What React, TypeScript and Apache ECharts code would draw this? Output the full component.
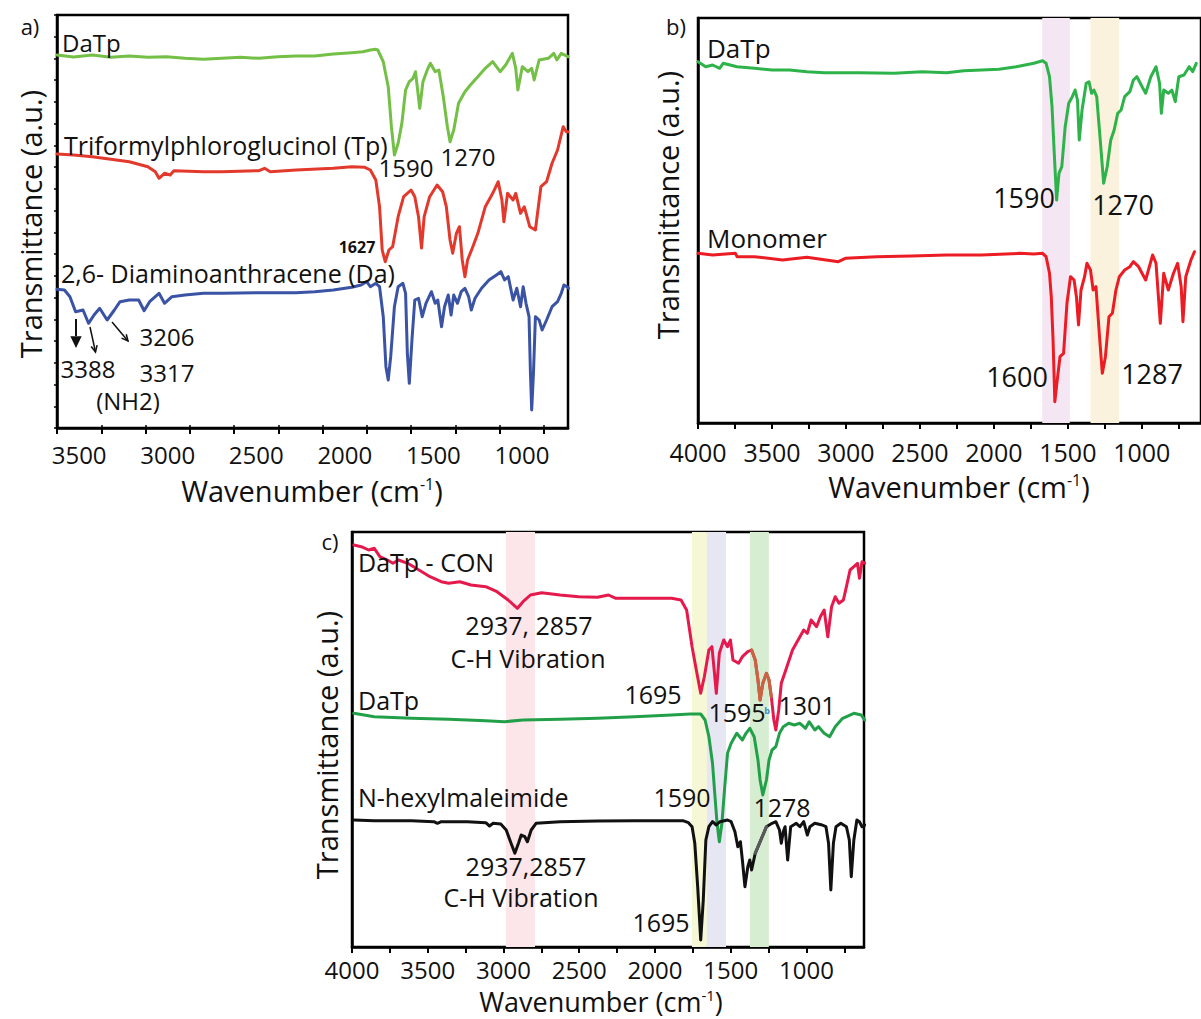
import React, { useEffect, useRef } from 'react';
import * as echarts from 'echarts';

const FONT = '"Open Sans", "Noto Sans", sans-serif';

// ---------- axis ticks / labels ----------
const aTicks = [3625, 3375, 3125, 2875, 2625, 2375, 2125, 1875, 1625, 1375, 1125, 875];
const aLabels = [3500, 3000, 2500, 2000, 1500, 1000];
const bcTicks = [4000, 3750, 3500, 3250, 3000, 2750, 2500, 2250, 2000, 1750, 1500, 1250, 1000, 750];
const bcLabels = [4000, 3500, 3000, 2500, 2000, 1500, 1000];

// ---------- panel a ----------
const aDaTp = [[3625,373],[3531,371],[3426,373],[3321,370.7],[3217,372],[3112,370.7],[3007,371.3],[2903,369.7],[2798,368.7],[2693,369.7],[2589,370.7],[2484,369.7],[2379,371.3],[2275,372],[2170,372],[2065,374],[1961,375.3],[1898,376.3],[1856,378],[1825,378.7],[1814,378],[1783,366.3],[1755,341.3],[1737,301.3],[1720,273],[1699,284.7],[1678,304.7],[1657,338],[1636,346.3],[1615,349.7],[1601,356.3],[1577,319.7],[1559,346.3],[1531,359.7],[1517,364.7],[1490,356.3],[1469,358],[1444,331.3],[1421,301.3],[1406,286.3],[1385,298],[1358,324.7],[1322,336.3],[1291,343],[1249,351.3],[1207,359.7],[1165,366.3],[1123,356.3],[1092,363],[1054,374.7],[1035,359.7],[1023,338],[998,361.3],[966,356.3],[945,359.7],[931,348],[903,368],[851,369.7],[820,374.7],[803,368],[778,374.7],[740,371.3]];
const aTp = [[3625,274],[3531,273],[3426,271.3],[3321,268.7],[3217,266.3],[3112,261.3],[3070,256.3],[3049,249.7],[3018,254.7],[2986,253],[2965,257.3],[2798,256.3],[2693,256.3],[2484,257.3],[2453,259.7],[2421,256.3],[2275,258],[2065,259.7],[1961,261.3],[1887,260.7],[1856,258],[1825,248],[1804,221.3],[1789,178],[1772,166.3],[1751,178],[1730,181.3],[1699,211.3],[1668,231.3],[1626,238],[1605,231.3],[1584,211.3],[1567,180],[1552,211.3],[1521,231.3],[1479,243],[1448,236.3],[1427,221.3],[1406,188],[1391,174.7],[1370,194.7],[1353,201.3],[1337,168],[1322,151.3],[1307,168],[1280,180],[1249,194.7],[1207,221.3],[1165,234.7],[1134,246.3],[1113,228],[1102,206.3],[1081,234.7],[1050,228],[1035,234.7],[1008,214.7],[987,221.3],[956,201.3],[924,198],[893,241.3],[861,246.3],[830,264.7],[799,278],[767,301.3],[750,296.3],[740,296.3]];
const aDa = [[3625,138.7],[3583,138],[3552,131.3],[3520,116.3],[3478,118],[3447,104.7],[3416,113],[3384,119.7],[3342,108],[3301,118],[3269,126.3],[3217,128],[3164,128],[3133,117.3],[3102,126.3],[3049,134.7],[3018,124.7],[2976,131.3],[2903,133],[2798,134.7],[2693,134.7],[2484,135.3],[2275,135.3],[2170,136.3],[2065,138],[1961,140.7],[1908,143],[1877,146.3],[1856,141.3],[1825,144.7],[1804,141.3],[1783,111.3],[1768,61.3],[1755,48],[1741,71.3],[1720,121.3],[1699,141.3],[1672,144.7],[1657,134.7],[1647,74.7],[1636,44.7],[1621,88],[1605,128],[1584,129.7],[1563,111.3],[1542,124.7],[1511,136.3],[1490,124.7],[1475,128],[1454,101.3],[1437,121.3],[1416,133],[1400,113],[1385,133],[1364,124.7],[1343,136.3],[1322,139.7],[1301,131.3],[1286,118],[1265,129.7],[1228,139.7],[1186,148],[1144,153],[1119,156.3],[1098,148],[1077,151.3],[1050,128],[1029,139.7],[1008,121.3],[993,141.3],[977,124.7],[960,111.3],[952,54.7],[945,18],[935,54.7],[924,111.3],[903,108],[886,98],[861,108],[830,121.3],[799,126.3],[778,134.7],[763,143],[746,141.3],[736,139.7]];

// ---------- panel b ----------
const bDaTp = [[4000,361.3],[3948,356.3],[3901,358],[3854,354.7],[3830,359.7],[3736,356.3],[3618,354.7],[3500,353],[3382,353],[3264,351.3],[3146,350.3],[2910,350.3],[2674,349.7],[2485,351.3],[2320,350.3],[2202,352.3],[2084,353],[1966,353.7],[1848,356.3],[1730,359.7],[1671,362.3],[1647,359.7],[1624,346.3],[1607,316.3],[1593,273],[1576,223],[1560,249.7],[1541,256.3],[1518,296.3],[1494,319.7],[1470,326.3],[1451,333],[1435,323],[1423,283],[1404,313],[1376,339.7],[1357,341.3],[1340,329.7],[1324,333],[1305,326.3],[1281,283],[1258,239.7],[1234,256.3],[1210,283],[1187,293],[1163,309.7],[1140,313],[1116,326.3],[1081,331.3],[1057,343],[1033,346.3],[998,336.3],[974,329.7],[939,346.3],[904,356.3],[880,339.7],[868,309.7],[852,333],[821,329.7],[797,333],[774,321.3],[750,346.3],[715,348],[680,356.3],[656,351.3],[632,359.7]];
const bMonomer = [[4000,169.7],[3901,168],[3747,169.7],[3736,166.3],[3618,166.3],[3429,163],[3264,165.7],[3051,161.3],[3004,164.7],[2792,166.3],[2556,167],[2320,168],[2084,168],[1824,169.7],[1730,169],[1671,169.7],[1647,166.3],[1624,149.7],[1612,126.3],[1600,83],[1588,21.3],[1569,46.3],[1553,66.3],[1529,69.7],[1506,119.7],[1482,146.3],[1458,143],[1442,126.3],[1428,98],[1411,133],[1387,146.3],[1371,159.7],[1347,153],[1329,133],[1310,136.3],[1286,86.3],[1267,49.7],[1246,66.3],[1222,106.3],[1199,109.7],[1175,133],[1152,146.3],[1116,153],[1081,156.3],[1057,161.3],[1022,156.3],[974,143],[927,168],[904,159.7],[875,99.7],[852,149.7],[821,133],[786,149.7],[758,159.7],[734,136.3],[722,101.3],[703,146.3],[668,163],[644,171.3]];
const bBandRanges = [[1673, 1487], [1347, 1153]];

// ---------- panel c ----------
const cCon = [[3988,402],[3939,400.3],[3890,397],[3853,398.7],[3816,390.3],[3767,387],[3730,383.7],[3693,387],[3632,383.7],[3558,377],[3485,370.3],[3411,365.3],[3362,363.7],[3288,365.3],[3215,362],[3117,360.3],[3043,355.3],[2969,347],[2908,338.7],[2871,345.3],[2822,352],[2748,354.3],[2626,352],[2503,350.3],[2380,349.7],[2307,352],[2258,348.7],[2135,348.7],[2012,348.7],[1890,348.7],[1828,347],[1791,337],[1755,300.3],[1723,273.7],[1698,253.7],[1674,270.3],[1644,297],[1624,300.3],[1607,273.7],[1595,253.7],[1575,293.7],[1546,307],[1521,300.3],[1502,307],[1485,287],[1448,283.7],[1423,290.3],[1387,295.3],[1362,297],[1338,287],[1320,267],[1306,247],[1288,263.7],[1264,273.7],[1247,267],[1232,250.3],[1215,227],[1202,217],[1183,237],[1166,263.7],[1129,280.3],[1092,297],[1055,307],[1018,317],[994,313.7],[969,327],[933,320.3],[908,330.3],[883,337],[859,310.3],[834,340.3],[810,350.3],[785,343.7],[756,347],[736,360.3],[712,377],[687,380.3],[663,383.7],[650,368.7],[633,385.3],[614,383.7]];
const cDaTp = [[3988,233.7],[3853,230.3],[3607,228.7],[3362,227.7],[3117,226.3],[2994,225.3],[2871,227],[2626,227.7],[2380,228.7],[2135,230.3],[1890,232],[1767,233],[1698,233],[1669,227],[1644,210.3],[1620,183.7],[1607,157],[1590,123.7],[1575,105.3],[1558,123.7],[1541,157],[1521,193.7],[1497,203.7],[1460,213.7],[1423,207],[1399,213.7],[1374,218.7],[1345,210.3],[1320,187],[1306,167],[1288,152],[1264,167],[1247,187],[1227,197],[1202,200.3],[1178,213.7],[1153,220.3],[1117,223.7],[1080,222],[1043,223.7],[1006,218.7],[982,225.3],[945,217],[920,220.3],[883,213.7],[847,210.3],[810,220.3],[761,228.7],[687,233.7],[638,232],[614,227]];
const cHexyl = [[3988,127],[3853,126.3],[3607,126.3],[3460,125.3],[3436,123.7],[3411,125.3],[3239,125.3],[3117,124.3],[3092,121],[3068,123.7],[3018,123],[2982,117],[2950,103.7],[2925,93.7],[2901,103.7],[2883,112],[2859,110.3],[2842,105.3],[2817,117],[2785,123.7],[2626,125.3],[2380,126],[2135,126.3],[1890,126.3],[1816,126.3],[1779,124.3],[1755,120.3],[1737,103.7],[1718,60.3],[1698,7],[1681,47],[1664,107],[1644,120.3],[1620,125.3],[1595,122],[1571,125.3],[1521,127],[1497,125.3],[1472,115.3],[1453,100.3],[1436,105.3],[1423,87],[1406,60.3],[1387,80.3],[1374,87],[1362,77],[1338,93.7],[1301,107],[1264,120.3],[1227,123.7],[1202,125.3],[1178,117],[1166,103.7],[1153,115.3],[1141,120.3],[1124,87],[1104,120.3],[1067,123.7],[1043,120.3],[1018,125.3],[994,112],[977,120.3],[945,123.7],[896,122],[871,120.3],[854,103.7],[839,57],[822,103.7],[805,120.3],[773,123.7],[736,120.3],[717,107],[704,70.3],[687,107],[667,127],[650,125.3],[633,120.3],[614,122]];
const cBandRanges = [[2984, 2792], [1756, 1657], [1657, 1531], [1373, 1248]];
const cConOverlayRange = [1362, 1232];
const cHexOverlayRange = [1338, 1247];

// ---------- styles ----------
const C = {
  aGreen: '#74bf45', aRed: '#e2392c', aBlue: '#3a53a4',
  bGreen: '#2db34a', bRed: '#ec1c24',
  cRed: '#e5194b', cGreen: '#22a049', cBlack: '#111111', cBrown: '#c8643f', cGray: '#5a5a5a',
};
const bBandColors = ['#f4e6f2', '#faf2dc'];
const cBandColors = ['#fce6ea', '#f6f7d4', '#e7e7f4', '#d7edd1'];

function between(data: number[][], r: number[]) {
  return data.filter((p) => p[0] <= r[0] && p[0] >= r[1]);
}

function lineSeries(name: string, data: number[][], color: string, idx: number, extra: any = {}) {
  return {
    type: 'line', name, data, xAxisIndex: idx, yAxisIndex: idx,
    showSymbol: false, symbol: 'none', smooth: false, z: 3,
    lineStyle: { color, width: 3, cap: 'round', join: 'round' },
    ...extra,
  };
}

function xAxisFor(gridIndex: number, min: number, max: number, ticks: number[], labels: number[], margin: number, fs: number) {
  return {
    type: 'value', gridIndex, min, max, inverse: true,
    axisLine: { show: true, onZero: false, lineStyle: { color: '#000', width: 2.5 } },
    axisTick: { show: true, customValues: ticks, length: 6, lineStyle: { color: '#000', width: 2 } },
    axisLabel: {
      show: true, customValues: labels, margin, fontSize: fs, color: '#111', fontFamily: FONT,
      lineHeight: fs, formatter: (v: number) => String(v),
    },
    splitLine: { show: false },
  };
}

function yAxisFor(gridIndex: number, max: number, ticks: number[] | null) {
  return {
    type: 'value', gridIndex, min: 0, max,
    axisLine: { show: true, onZero: false, lineStyle: { color: '#000', width: 2.5 } },
    axisTick: ticks ? { show: true, customValues: ticks, length: 3, lineStyle: { color: '#000', width: 1.5 } } : { show: false },
    axisLabel: { show: false },
    splitLine: { show: false },
  };
}

function txt(x: number, y: number, text: string, size: number, opt: any = {}) {
  return {
    type: 'text', x, y, z: 100, rotation: opt.rot || 0,
    style: {
      text, fontSize: size, fontFamily: FONT, fontWeight: opt.weight || 'normal',
      fill: opt.color || '#111',
      textAlign: opt.align || 'center', align: opt.align || 'center',
      textVerticalAlign: 'middle', verticalAlign: 'middle',
      rich: { sup: { fontSize: Math.round(size * 0.55), fontFamily: FONT, fill: '#111', verticalAlign: 'top' } },
    },
  };
}

function arrowLine(x1: number, y1: number, x2: number, y2: number, w: number) {
  return { type: 'line', z: 100, shape: { x1, y1, x2, y2 }, style: { stroke: '#111', lineWidth: w } };
}

function arrowHead(x1: number, y1: number, x2: number, y2: number, size: number, filled: boolean) {
  const ang = Math.atan2(y2 - y1, x2 - x1);
  const a1 = ang + Math.PI - 0.45, a2 = ang + Math.PI + 0.45;
  const p1 = [x2 + size * Math.cos(a1), y2 + size * Math.sin(a1)];
  const p2 = [x2 + size * Math.cos(a2), y2 + size * Math.sin(a2)];
  if (filled) {
    return { type: 'polygon', z: 100, shape: { points: [p1, [x2, y2], p2] }, style: { fill: '#111' } };
  }
  return { type: 'polyline', z: 100, shape: { points: [p1, [x2, y2], p2] }, style: { stroke: '#111', lineWidth: 1.5, fill: null } };
}

export default function App() {
  const ref = useRef<HTMLDivElement>(null);
  useEffect(() => {
    if (!ref.current) return;
    const chart = echarts.init(ref.current, null, { renderer: 'svg' });
    const aYTicks = Array.from({ length: 20 }, (_, i) => (i * 413) / 19);
    const option: any = {
      animation: false,
      backgroundColor: '#ffffff',
      grid: [
        { left: 57, top: 15, width: 511, height: 413, show: true, borderColor: '#000', borderWidth: 2.5, containLabel: false },
        { left: 698, top: 18, width: 510, height: 405, show: true, borderColor: '#000', borderWidth: 2.5, containLabel: false },
        { left: 352, top: 532, width: 512, height: 415, show: true, borderColor: '#000', borderWidth: 2.5, containLabel: false },
      ],
      xAxis: [
        xAxisFor(0, 740, 3625, aTicks, aLabels, 14, 24),
        xAxisFor(1, 600, 4000, bcTicks, bcLabels, 16, 25),
        xAxisFor(2, 620, 4000, bcTicks, bcLabels, 10, 24),
        {
          type: 'value', gridIndex: 0, min: 740, max: 3625, inverse: true, position: 'top',
          axisLine: { show: false }, axisLabel: { show: false }, splitLine: { show: false },
          axisTick: { show: true, customValues: aTicks, length: 3, lineStyle: { color: '#000', width: 1.5 } },
        },
      ],
      yAxis: [yAxisFor(0, 413, aYTicks), yAxisFor(1, 405, null), yAxisFor(2, 415, null)],
      series: [
        lineSeries('DaTp', aDaTp, C.aGreen, 0),
        lineSeries('Triformylphloroglucinol (Tp)', aTp, C.aRed, 0),
        lineSeries('2,6- Diaminoanthracene (Da)', aDa, C.aBlue, 0),
        lineSeries('DaTp ', bDaTp, C.bGreen, 1, {
          markArea: {
            silent: true,
            data: bBandRanges.map((r, i) => [{ xAxis: r[0], itemStyle: { color: bBandColors[i] } }, { xAxis: r[1] }]),
          },
        }),
        lineSeries('Monomer', bMonomer, C.bRed, 1),
        lineSeries('DaTp - CON', cCon, C.cRed, 2, {
          markArea: {
            silent: true,
            data: cBandRanges.map((r, i) => [{ xAxis: r[0], itemStyle: { color: cBandColors[i] } }, { xAxis: r[1] }]),
          },
        }),
        lineSeries('DaTp - CON overlay', between(cCon, cConOverlayRange), C.cBrown, 2, { z: 4 }),
        lineSeries('DaTp  ', cDaTp, C.cGreen, 2),
        lineSeries('N-hexylmaleimide', cHexyl, C.cBlack, 2),
        lineSeries('N-hexylmaleimide overlay', between(cHexyl, cHexOverlayRange), C.cGray, 2, { z: 4 }),
      ],
      graphic: [
        // panel a
        txt(30, 26, 'a)', 22),
        txt(30, 224, 'Transmittance (a.u.)', 29, { rot: Math.PI / 2 }),
        txt(312, 490, 'Wavenumber (cm{sup|-1})', 29),
        txt(62, 42, 'DaTp', 24, { align: 'left' }),
        txt(64, 145, 'Triformylphloroglucinol (Tp)', 25, { align: 'left' }),
        txt(406, 167, '1590', 24),
        txt(468, 156, '1270', 24),
        txt(357, 247, '1627', 16, { weight: 'bold' }),
        txt(61, 273, '2,6- Diaminoanthracene (Da)', 25, { align: 'left' }),
        txt(167, 336, '3206', 24),
        txt(88, 368, '3388', 24),
        txt(167, 372, '3317', 24),
        txt(128, 400, '(NH2)', 24),
        arrowLine(76, 319, 76, 336, 2),
        arrowHead(76, 319, 76, 348, 13, true),
        arrowLine(90, 327, 95.5, 352, 1.5),
        arrowHead(90, 327, 95.5, 352, 7, false),
        arrowLine(112, 322, 128, 341, 1.5),
        arrowHead(112, 322, 128, 341, 7, false),
        // panel b
        txt(676, 26, 'b)', 22),
        txt(667, 205, 'Transmittance (a.u.)', 29, { rot: Math.PI / 2 }),
        txt(959, 486, 'Wavenumber (cm{sup|-1})', 29),
        txt(707, 48, 'DaTp', 26, { align: 'left' }),
        txt(1024, 197, '1590', 27),
        txt(1123, 204, '1270', 27),
        txt(707, 238, 'Monomer', 26, { align: 'left' }),
        txt(1017, 376, '1600', 27),
        txt(1152, 373, '1287', 27),
        // panel c
        txt(330, 541, 'c)', 22),
        txt(326, 745, 'Transmittance (a.u.)', 29, { rot: Math.PI / 2 }),
        txt(601, 1001, 'Wavenumber (cm{sup|-1})', 27),
        txt(358, 562, 'DaTp - CON', 25, { align: 'left' }),
        txt(529, 625, '2937, 2857', 25),
        txt(528, 658, 'C-H Vibration', 25),
        txt(653, 694, '1695', 25),
        txt(358, 700, 'DaTp', 25, { align: 'left' }),
        txt(737, 712, '1595', 25),
        txt(767, 710, 'b', 9, { color: '#3a8ec4', weight: 'bold' }),
        txt(807, 705, '1301', 25),
        txt(358, 797, 'N-hexylmaleimide', 25, { align: 'left' }),
        txt(682, 797, '1590', 25),
        txt(782, 807, '1278', 25),
        txt(526, 866, '2937,2857', 25),
        txt(521, 897, 'C-H Vibration', 25),
        txt(661, 922, '1695', 25),
      ],
    };
    chart.setOption(option);
    return () => chart.dispose();
  }, []);
  return (
    <div
      ref={ref}
      style={{ position: 'absolute', left: 0, top: 0, width: 1201, height: 1019, overflow: 'hidden', background: '#fff' }}
    />
  );
}
